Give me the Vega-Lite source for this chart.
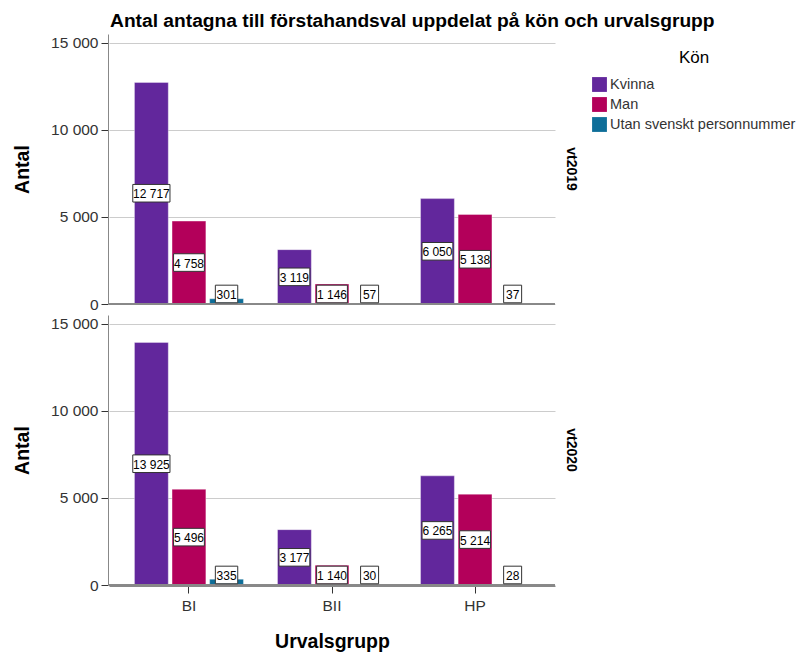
{
  "$schema": "https://vega.github.io/schema/vega-lite/v6.json",
  "padding": {"left": 12, "top": 11, "right": 0, "bottom": 5},
  "background": "white",
  "title": {"text": "Antal antagna till förstahandsval uppdelat på kön och urvalsgrupp", "fontSize": 19.2, "font": "Liberation Sans", "fontWeight": "bold", "color": "#000", "anchor": "middle", "offset": 3},
  "data": {"values": [
    {"Termin": "vt2019", "Urvalsgrupp": "BI", "Kön": "Kvinna", "Antal": 12717},
    {"Termin": "vt2019", "Urvalsgrupp": "BI", "Kön": "Man", "Antal": 4758},
    {"Termin": "vt2019", "Urvalsgrupp": "BI", "Kön": "Utan svenskt personnummer", "Antal": 301},
    {"Termin": "vt2019", "Urvalsgrupp": "BII", "Kön": "Kvinna", "Antal": 3119},
    {"Termin": "vt2019", "Urvalsgrupp": "BII", "Kön": "Man", "Antal": 1146},
    {"Termin": "vt2019", "Urvalsgrupp": "BII", "Kön": "Utan svenskt personnummer", "Antal": 57},
    {"Termin": "vt2019", "Urvalsgrupp": "HP", "Kön": "Kvinna", "Antal": 6050},
    {"Termin": "vt2019", "Urvalsgrupp": "HP", "Kön": "Man", "Antal": 5138},
    {"Termin": "vt2019", "Urvalsgrupp": "HP", "Kön": "Utan svenskt personnummer", "Antal": 37},
    {"Termin": "vt2020", "Urvalsgrupp": "BI", "Kön": "Kvinna", "Antal": 13925},
    {"Termin": "vt2020", "Urvalsgrupp": "BI", "Kön": "Man", "Antal": 5496},
    {"Termin": "vt2020", "Urvalsgrupp": "BI", "Kön": "Utan svenskt personnummer", "Antal": 335},
    {"Termin": "vt2020", "Urvalsgrupp": "BII", "Kön": "Kvinna", "Antal": 3177},
    {"Termin": "vt2020", "Urvalsgrupp": "BII", "Kön": "Man", "Antal": 1140},
    {"Termin": "vt2020", "Urvalsgrupp": "BII", "Kön": "Utan svenskt personnummer", "Antal": 30},
    {"Termin": "vt2020", "Urvalsgrupp": "HP", "Kön": "Kvinna", "Antal": 6265},
    {"Termin": "vt2020", "Urvalsgrupp": "HP", "Kön": "Man", "Antal": 5214},
    {"Termin": "vt2020", "Urvalsgrupp": "HP", "Kön": "Utan svenskt personnummer", "Antal": 28}
  ]},
  "transform": [
    {"calculate": "max(datum.Antal / 2, 575)", "as": "labelPos"},
    {"calculate": "datum.Antal >= 10000 ? 'w6' : datum.Antal >= 1000 ? 'w5' : datum.Antal >= 100 ? 'w3' : 'w2'", "as": "boxW"}
  ],
  "facet": {
    "row": {"field": "Termin", "type": "nominal", "header": {"title": null, "labelOrient": "right", "labelAngle": 90, "labelFontSize": 14, "labelFontWeight": "bold", "labelFont": "Liberation Sans", "labelColor": "#000", "labelPadding": 8}}
  },
  "spacing": 10,
  "spec": {
    "width": 446,
    "height": 270,
    "encoding": {
      "x": {"field": "Urvalsgrupp", "type": "nominal", "title": "Urvalsgrupp",
        "scale": {"paddingInner": 0.238, "paddingOuter": 0.178},
        "axis": {"labelAngle": 0, "labelFontSize": 15.5, "labelColor": "#333", "titleFontSize": 19.5, "titleFontWeight": "bold", "titleColor": "#000", "domainColor": "#888", "tickColor": "#333", "tickSize": 7, "labelPadding": 5, "titlePadding": 19}},
      "xOffset": {"field": "Kön", "type": "nominal", "scale": {"paddingInner": 0.1, "paddingOuter": 0}},
      "y": {"type": "quantitative"}
    },
    "layer": [
      {
        "mark": {"type": "bar", "stroke": "white", "strokeOpacity": 0.35, "strokeWidth": 1},
        "encoding": {
          "y": {"field": "Antal", "type": "quantitative", "title": "Antal",
            "scale": {"domain": [0, 15500], "nice": false},
            "axis": {"values": [0, 5000, 10000, 15000], "format": ",d", "labelFontSize": 15.5, "labelColor": "#333", "labelPadding": 3, "titleFontSize": 19.5, "titleFontWeight": "bold", "titleColor": "#000", "domainColor": "#888", "tickColor": "#333", "tickSize": 7, "gridColor": "#cccccc", "titlePadding": 18}},
          "color": {"field": "Kön", "type": "nominal", "title": "Kön",
            "scale": {"domain": ["Kvinna", "Man", "Utan svenskt personnummer"], "range": ["#62279c", "#b3005a", "#0e6e99"]},
            "legend": {"titleFontSize": 17, "titleFontWeight": "normal", "titleColor": "#000", "titleAnchor": "middle", "labelFontSize": 14.5, "labelColor": "#333", "labelLimit": 0, "labelOffset": 3, "symbolType": "square", "symbolSize": 220, "symbolStrokeWidth": 0, "rowPadding": 4, "titlePadding": 10, "padding": 16, "offset": -2}}
        }
      },
      {
        "mark": {"type": "rule", "color": "#888"},
        "encoding": {"y": {"datum": 0}, "xOffset": null, "x": null}
      },
      {
        "mark": {"type": "point", "filled": true, "fill": "white", "stroke": "#333", "strokeWidth": 1, "opacity": 1, "size": 1600},
        "encoding": {
          "y": {"field": "labelPos", "type": "quantitative"},
          "shape": {"field": "boxW", "type": "nominal", "legend": null,
            "scale": {"domain": ["w2", "w3", "w5", "w6"], "range": ["M-0.45,-0.44L0.45,-0.44L0.45,0.44L-0.45,0.44Z", "M-0.56,-0.44L0.56,-0.44L0.56,0.44L-0.56,0.44Z", "M-0.77,-0.44L0.77,-0.44L0.77,0.44L-0.77,0.44Z", "M-0.93,-0.44L0.93,-0.44L0.93,0.44L-0.93,0.44Z"]}}
        }
      },
      {
        "mark": {"type": "text", "fontSize": 12, "color": "#000", "baseline": "middle", "align": "center", "dy": 1},
        "encoding": {
          "y": {"field": "labelPos", "type": "quantitative"},
          "text": {"field": "Antal", "type": "quantitative", "format": ",d"}
        }
      }
    ]
  },
  "resolve": {"scale": {"y": "shared"}},
  "config": {
    "font": "Liberation Sans",
    "locale": {"number": {"decimal": ",", "thousands": " ", "grouping": [3], "currency": ["", " kr"]}},
    "view": {"stroke": null},
    "axis": {"labelFont": "Liberation Sans", "titleFont": "Liberation Sans"},
    "axisX": {"grid": false},
    "legend": {"labelFont": "Liberation Sans", "titleFont": "Liberation Sans"}
  }
}
